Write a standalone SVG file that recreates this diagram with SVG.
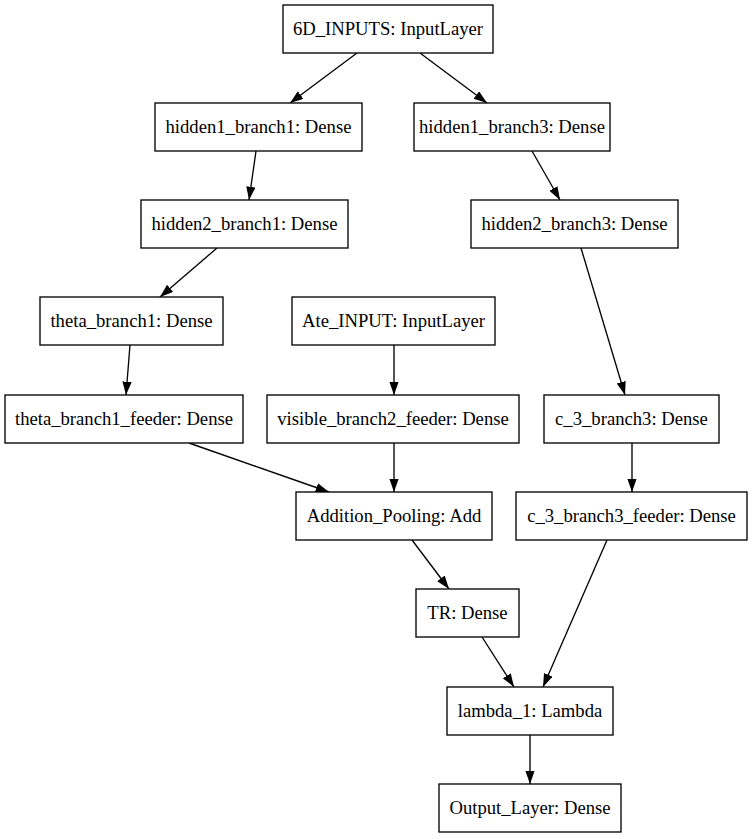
<svg xmlns="http://www.w3.org/2000/svg" width="752" height="839" viewBox="0 0 752 839">
<style>
.n rect{fill:#fff;stroke:#000;stroke-width:1.33}
.n text{font-family:'Liberation Serif','Times New Roman',Times,'DejaVu Serif',serif;font-size:18.67px;text-anchor:middle;fill:#000}
.e line{stroke:#000;stroke-width:1.33;marker-end:url(#ah)}
</style>
<defs>
<marker id="ah" markerUnits="userSpaceOnUse" markerWidth="14" markerHeight="10" refX="13.3" refY="4.67" orient="auto">
<path d="M0,0 L13.3,4.67 L0,9.33 z" fill="#000"/>
</marker>
</defs>
<rect width="752" height="839" fill="#fff"/>
<g id="edges" class="e">
<line x1="357" y1="53" x2="290" y2="103"/>
<line x1="420" y1="53" x2="487" y2="103"/>
<line x1="256" y1="151" x2="249" y2="200"/>
<line x1="532" y1="151" x2="560" y2="200"/>
<line x1="217" y1="248" x2="160" y2="297"/>
<line x1="581" y1="248" x2="625" y2="395"/>
<line x1="130" y1="345" x2="126" y2="395"/>
<line x1="394" y1="345" x2="394" y2="395"/>
<line x1="189" y1="443" x2="329" y2="492"/>
<line x1="394" y1="443" x2="394" y2="492"/>
<line x1="632" y1="443" x2="632" y2="492"/>
<line x1="412" y1="540" x2="449" y2="589"/>
<line x1="482" y1="637" x2="514" y2="687"/>
<line x1="607" y1="540" x2="543" y2="687"/>
<line x1="530" y1="735" x2="530" y2="784"/>
</g>
<g id="nodes">
<g id="n_6d" class="n"><rect x="283" y="5" width="210" height="48"/><text x="388" y="35">6D_INPUTS: InputLayer</text></g>
<g id="n_h1b1" class="n"><rect x="155" y="103" width="207" height="48"/><text x="258.5" y="133">hidden1_branch1: Dense</text></g>
<g id="n_h1b3" class="n"><rect x="414" y="103" width="196" height="48"/><text x="512" y="133">hidden1_branch3: Dense</text></g>
<g id="n_h2b1" class="n"><rect x="141" y="200" width="207" height="48"/><text x="244.5" y="230">hidden2_branch1: Dense</text></g>
<g id="n_h2b3" class="n"><rect x="471" y="200" width="207" height="48"/><text x="574.5" y="230">hidden2_branch3: Dense</text></g>
<g id="n_tb1" class="n"><rect x="40" y="297" width="183" height="48"/><text x="131.5" y="327">theta_branch1: Dense</text></g>
<g id="n_ate" class="n"><rect x="292" y="297" width="203" height="48"/><text x="393.5" y="327">Ate_INPUT: InputLayer</text></g>
<g id="n_tbf" class="n"><rect x="5" y="395" width="238" height="48"/><text x="124" y="425">theta_branch1_feeder: Dense</text></g>
<g id="n_vbf" class="n"><rect x="267" y="395" width="252" height="48"/><text x="393" y="425">visible_branch2_feeder: Dense</text></g>
<g id="n_c3" class="n"><rect x="544" y="395" width="175" height="48"/><text x="631.5" y="425">c_3_branch3: Dense</text></g>
<g id="n_add" class="n"><rect x="296" y="492" width="196" height="48"/><text x="394" y="522">Addition_Pooling: Add</text></g>
<g id="n_c3f" class="n"><rect x="516" y="492" width="231" height="48"/><text x="631.5" y="522">c_3_branch3_feeder: Dense</text></g>
<g id="n_tr" class="n"><rect x="416" y="589" width="103" height="48"/><text x="467.5" y="619">TR: Dense</text></g>
<g id="n_lam" class="n"><rect x="447" y="687" width="166" height="48"/><text x="530" y="717">lambda_1: Lambda</text></g>
<g id="n_out" class="n"><rect x="439" y="784" width="182" height="48"/><text x="530" y="814">Output_Layer: Dense</text></g>
</g>
</svg>
